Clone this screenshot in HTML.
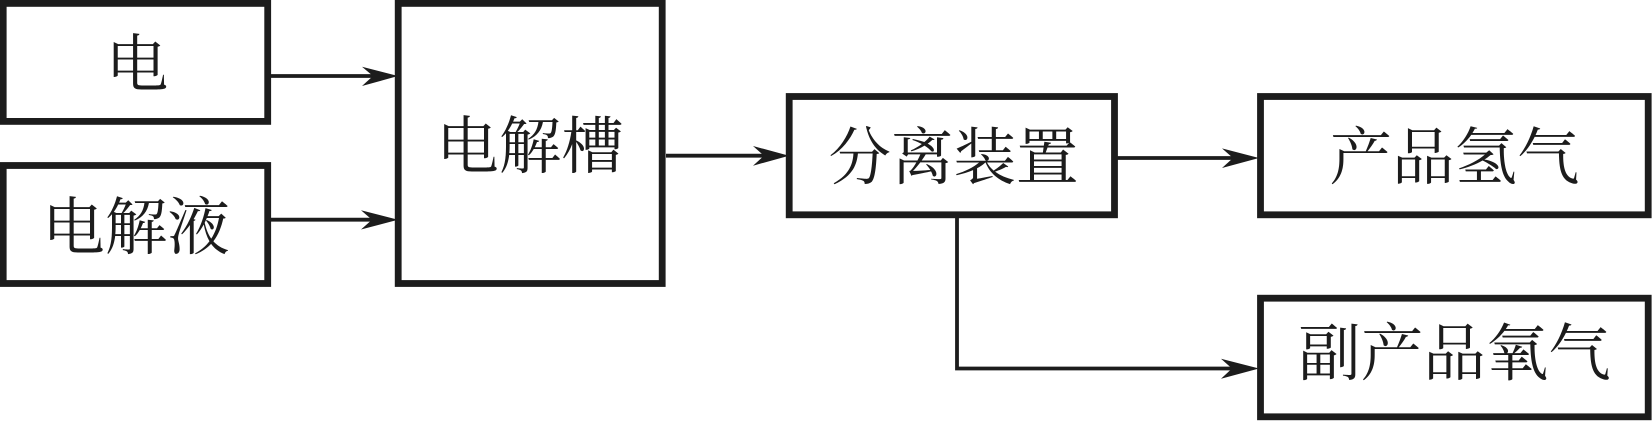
<!DOCTYPE html>
<html><head><meta charset="utf-8"><style>
html,body{margin:0;padding:0;background:#fff}
svg{display:block}
text{font-family:"Liberation Serif","Noto Serif CJK SC",serif;font-size:62.5px;fill:#1c1c1c;text-anchor:middle}
</style></head><body>
<svg width="1652" height="421" viewBox="0 0 1652 421" xmlns="http://www.w3.org/2000/svg">
<rect width="1652" height="421" fill="#fff"/>
<g fill="none" stroke="#1c1c1c" stroke-width="6.8">
<rect x="3.2" y="3.4" width="264.5" height="118"/>
<rect x="3.2" y="165.5" width="264.5" height="118"/>
<rect x="398.2" y="3.4" width="264" height="280.1"/>
<rect x="789.2" y="96.5" width="325.3" height="118.3"/>
<rect x="1260.5" y="96.5" width="387.7" height="118.3"/>
<rect x="1260.5" y="298.2" width="387.7" height="118.6"/>
</g>
<g fill="none" stroke="#1c1c1c" stroke-width="3.8">
<path d="M271 76H385"/>
<path d="M271 219.7H385"/>
<path d="M666 155.7H775"/>
<path d="M1117 158H1245"/>
<path d="M957 218V368.5H1245"/>
</g>
<g fill="#1c1c1c">
<path d="M362 66.7L398 76L362 86L373 76Z"/>
<path d="M361 210.3L398 219.7L361 229.5L372 219.7Z"/>
<path d="M753 146L789 155.7L753 165.7L764 155.7Z"/>
<path d="M1222 148.4L1259 158L1222 168L1233 158Z"/>
<path d="M1221 358.8L1259 368.5L1221 378.8L1232 368.5Z"/>
</g>
<text x="137" y="86">电</text>
<text x="136" y="249">电解液</text>
<text x="530" y="168">电解槽</text>
<text x="953.5" y="179">分离装置</text>
<text x="1454.5" y="179">产品氢气</text>
<text x="1454.5" y="375">副产品氧气</text>
</svg>
</body></html>
